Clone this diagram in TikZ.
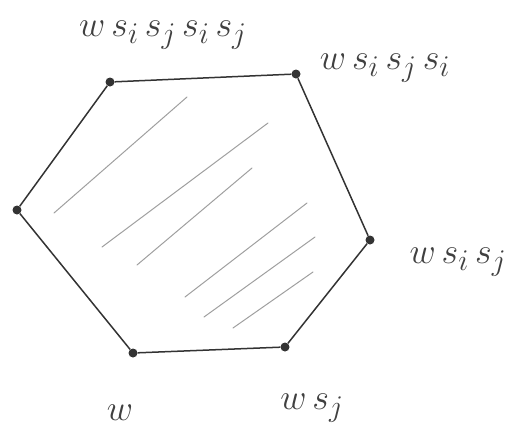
\documentclass[tikz,border=0pt]{standalone}
\usepackage{amsmath, amssymb}
\usepackage{tikz}

\begin{document}
\begin{tikzpicture}[x=1pt, y=-1pt,
    vtx/.style={circle, fill=black!80, inner sep=0pt, minimum size=9pt},
    lbl/.style={font=\Huge, scale=1.45, inner sep=0pt, text=black!75},
    hatch/.style={gray!75, line width=1pt, line cap=round}]
    % 画布大小
    \useasboundingbox (0,0) rectangle (512,440);

    % 六边形顶点
    \node[vtx] (v1) at (110,82) {};
    \node[vtx] (v2) at (296,74) {};
    \node[vtx] (v3) at (370,240) {};
    \node[vtx] (v4) at (285,347) {};
    \node[vtx] (v5) at (133,353) {};
    \node[vtx] (v6) at (17,210) {};

    % 六边形边
    \draw[line width=1.5pt, black!80] (v1) -- (v2) -- (v3) -- (v4) -- (v5) -- (v6) -- (v1);

    % 内部阴影线
    \draw[hatch] (54,213) -- (187,97);
    \draw[hatch] (102,247) -- (268,123);
    \draw[hatch] (137,265) -- (252,168);
    \draw[hatch] (185,297) -- (307,203);
    \draw[hatch] (204,317) -- (315,237);
    \draw[hatch] (233,328) -- (313,272);

    % 顶点标注
    \node[lbl] (l1) at (163,35) {$w\,s_i\,s_j\,s_i\,s_j$};
    \node[lbl] (l2) at (385,68) {$w\,s_i\,s_j\,s_i$};
    \node[lbl] (l3) at (458,262) {$w\,s_i\,s_j$};
    \node[lbl] (l4) at (312,408) {$w\,s_j$};
    \node[lbl] (l5) at (120,413) {$w$};

  \end{tikzpicture}
\end{document}
